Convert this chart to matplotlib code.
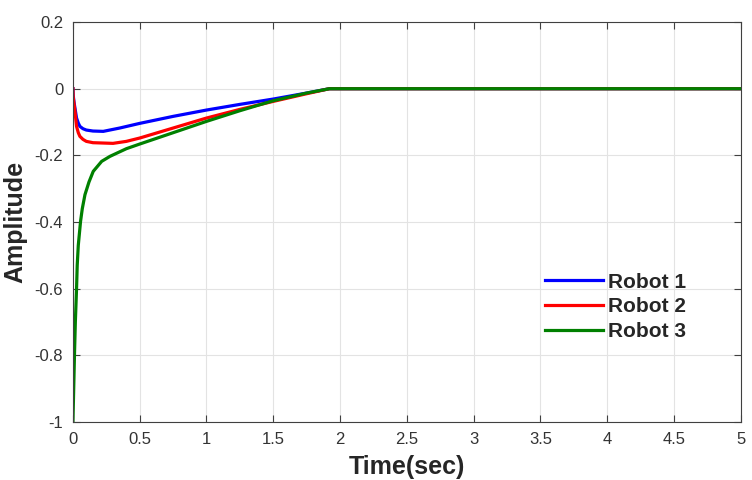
import numpy as np
import matplotlib.pyplot as plt

plt.rcParams['font.family'] = ['Liberation Sans', 'DejaVu Sans']

# values
t1 = [0, 0.002, 0.008, 0.015, 0.027, 0.04, 0.052, 0.075, 0.10, 0.15, 0.227,
      0.35, 0.5, 0.75, 1.0, 1.25, 1.5, 1.75, 1.92, 5]
y1 = [0, -0.02, -0.04, -0.058, -0.088, -0.103, -0.113, -0.12, -0.124, -0.127,
      -0.128, -0.118, -0.104, -0.083, -0.064, -0.047, -0.031, -0.013, 0, 0]

t2 = [0, 0.002, 0.008, 0.015, 0.027, 0.04, 0.052, 0.075, 0.10, 0.15, 0.3,
      0.4, 0.5, 0.75, 1.0, 1.25, 1.5, 1.75, 1.92, 5]
y2 = [0, -0.025, -0.045, -0.068, -0.113, -0.132, -0.143, -0.152, -0.158, -0.162,
      -0.164, -0.158, -0.148, -0.118, -0.088, -0.062, -0.038, -0.015, 0, 0]

t3 = [0, 0.004, 0.008, 0.012, 0.018, 0.027, 0.032, 0.04, 0.057, 0.07, 0.09,
      0.12, 0.152, 0.215, 0.277, 0.4, 0.5, 0.75, 1.0, 1.25, 1.5, 1.75, 1.92, 5]
y3 = [-1.0, -0.93, -0.86, -0.79, -0.70, -0.60, -0.53, -0.47, -0.398, -0.36,
      -0.318, -0.28, -0.248, -0.218, -0.203, -0.18, -0.166, -0.132, -0.098,
      -0.066, -0.036, -0.013, 0, 0]

names = ['Robot 1', 'Robot 2', 'Robot 3']
colors = ['#0000ff', '#ff0000', '#008000']

fig = plt.figure(figsize=(7.52, 4.8), dpi=100)
ax = fig.add_axes([0.097, 0.121, 0.888, 0.833])

for t, y, name, c in zip([t1, t2, t3], [y1, y2, y3], names, colors):
    ax.plot(t, y, color=c, lw=2.3, label=name)

ax.set_xlim(0, 5)
ax.set_ylim(-1, 0.2)
ax.set_xticks(np.arange(0, 5.01, 0.5))
ax.set_xticklabels(['0', '0.5', '1', '1.5', '2', '2.5', '3', '3.5', '4', '4.5', '5'])
ax.set_yticks(np.arange(-1, 0.21, 0.2))
ax.set_yticklabels(['-1', '-0.8', '-0.6', '-0.4', '-0.2', '0', '0.2'])
ax.grid(True, color='#e3e3e3', lw=0.8)
ax.set_axisbelow(True)
ax.tick_params(direction='in', top=True, right=True, labelsize=12,
               color='#404040', labelcolor='#333333', length=5, pad=7)
for s in ax.spines.values():
    s.set_color('#404040')
    s.set_linewidth(0.8)

ax.set_xlabel('Time(sec)', fontsize=18, fontweight='bold', labelpad=6,
              color='#262626')
ax.set_ylabel('Amplitude', fontsize=18, fontweight='bold', labelpad=5,
              color='#262626')

leg = ax.legend(loc='lower right', bbox_to_anchor=(0.946, 0.155), frameon=False,
                prop={'weight': 'bold', 'size': 15}, handlelength=2.75,
                handletextpad=0.25, labelspacing=0.28)
for txt in leg.get_texts():
    txt.set_color('#262626')

fig.savefig('out.png', dpi=100)
